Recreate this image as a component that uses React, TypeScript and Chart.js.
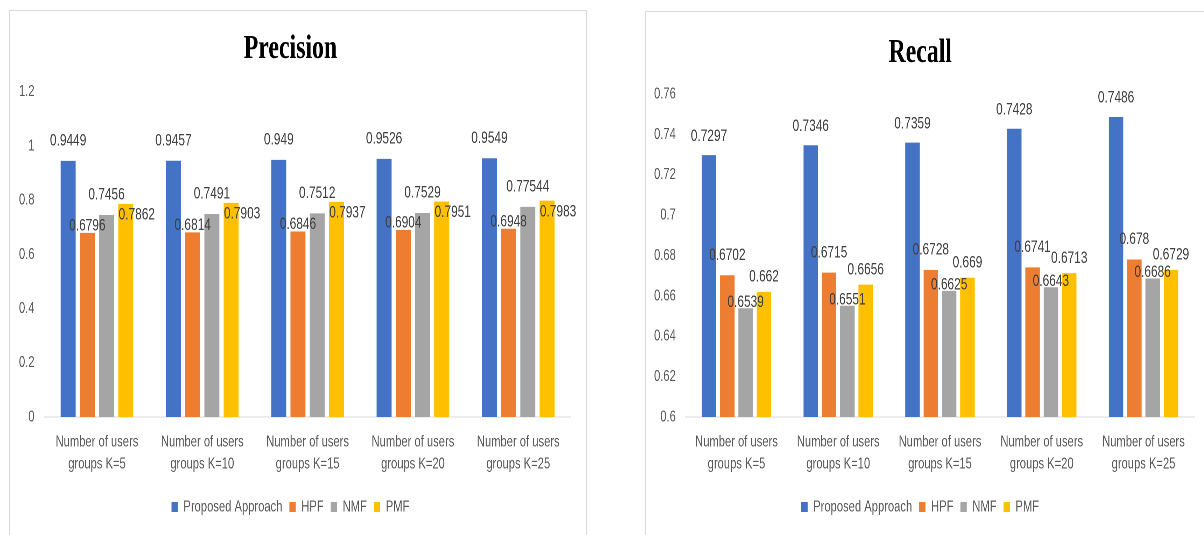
import React, { useEffect, useRef } from 'react';
import { Chart, registerables } from 'chart.js';

Chart.register(...registerables);

// ---------- data ----------
const categories: string[][] = [
  ['Number of users', 'groups K=5'],
  ['Number of users', 'groups K=10'],
  ['Number of users', 'groups K=15'],
  ['Number of users', 'groups K=20'],
  ['Number of users', 'groups K=25'],
];

const seriesNames = ['Proposed Approach', 'HPF', 'NMF', 'PMF'];
const seriesColors = ['#4472C4', '#ED7D31', '#A5A5A5', '#FFC000'];

const precisionProposed = [0.9449, 0.9457, 0.949, 0.9526, 0.9549];
const precisionHPF = [0.6796, 0.6814, 0.6846, 0.6904, 0.6948];
const precisionNMF = [0.7456, 0.7491, 0.7512, 0.7529, 0.77544];
const precisionPMF = [0.7862, 0.7903, 0.7937, 0.7951, 0.7983];

const recallProposed = [0.7297, 0.7346, 0.7359, 0.7428, 0.7486];
const recallHPF = [0.6702, 0.6715, 0.6728, 0.6741, 0.678];
const recallNMF = [0.6539, 0.6551, 0.6625, 0.6643, 0.6686];
const recallPMF = [0.662, 0.6656, 0.669, 0.6713, 0.6729];

const precisionTicks = [0, 0.2, 0.4, 0.6, 0.8, 1, 1.2];
const recallTicks = [0.6, 0.62, 0.64, 0.66, 0.68, 0.7, 0.72, 0.74, 0.76];

// ---------- styles ----------
const SANS = '"Liberation Sans", Arial, sans-serif';
const SERIF = '"Liberation Serif", "Times New Roman", serif';

type PanelCfg = {
  title: string;
  series: number[][];
  ticks: number[];
  W: number;
  H: number;
  scale: number;
  yWidth: number;
  rightPad: number;
  titlePadTop: number;
  titlePadBottom: number;
  bottomPad: number;
  catPct: number;
  barPct: number;
  labelOffsets: [number, number][];
};

function BarPanel({ cfg }: { cfg: PanelCfg }) {
  const ref = useRef<HTMLCanvasElement>(null);
  useEffect(() => {
    const canvas = ref.current!;
    const labelPlugin = {
      id: 'valueLabels',
      afterDatasetsDraw(chart: any) {
        const ctx = chart.ctx;
        ctx.save();
        ctx.font = '17px ' + SANS;
        ctx.fillStyle = '#404040';
        ctx.textAlign = 'center';
        ctx.textBaseline = 'middle';
        chart.data.datasets.forEach((ds: any, di: number) => {
          const meta = chart.getDatasetMeta(di);
          const [dx, dy] = cfg.labelOffsets[di];
          meta.data.forEach((el: any, i: number) => {
            ctx.fillText(String(ds.data[i]), el.x + dx, el.y + dy);
          });
        });
        ctx.restore();
      },
    };
    const chart = new Chart(canvas, {
      type: 'bar',
      data: {
        labels: categories,
        datasets: cfg.series.map((d, i) => ({
          label: seriesNames[i],
          data: d,
          backgroundColor: seriesColors[i],
          borderWidth: 0,
          categoryPercentage: cfg.catPct,
          barPercentage: cfg.barPct,
        })),
      },
      options: {
        responsive: false,
        animation: false,
        devicePixelRatio: 2,
        layout: { padding: { left: 0, right: cfg.rightPad, top: 0, bottom: cfg.bottomPad } },
        plugins: {
          title: {
            display: true,
            text: cfg.title,
            color: '#000000',
            font: { family: SERIF, size: 34, weight: 'bold', lineHeight: 1.2 },
            padding: { top: cfg.titlePadTop, bottom: cfg.titlePadBottom },
          },
          legend: {
            position: 'bottom',
            labels: {
              boxWidth: 9,
              boxHeight: 10,
              padding: 10,
              color: '#595959',
              font: { family: SANS, size: 16 },
            },
          },
          tooltip: { enabled: false },
        },
        scales: {
          x: {
            grid: { display: false, drawTicks: false },
            border: { display: true, color: '#d9d9d9', width: 1 },
            ticks: {
              color: '#595959',
              font: { family: SANS, size: 16, lineHeight: 1.375 },
              padding: 14,
              maxRotation: 0,
              autoSkip: false,
            },
            afterFit: (s: any) => {
              s.height = 72;
            },
          },
          y: {
            min: cfg.ticks[0],
            max: cfg.ticks[cfg.ticks.length - 1],
            grid: { display: false, drawTicks: false },
            border: { display: false },
            ticks: {
              color: '#595959',
              font: { family: SANS, size: 16 },
              padding: 14,
              callback: (v: any) => String(v),
            },
            afterBuildTicks: (s: any) => {
              s.ticks = cfg.ticks.map((v) => ({ value: v }));
            },
            afterFit: (s: any) => {
              s.width = cfg.yWidth;
            },
          },
        },
      } as any,
      plugins: [labelPlugin],
    });
    return () => chart.destroy();
  }, []);
  return (
    <canvas
      ref={ref}
      width={cfg.W}
      height={cfg.H}
      style={{
        position: 'absolute',
        left: 0,
        top: 0,
        display: 'block',
        transform: `scaleX(${cfg.scale})`,
        transformOrigin: '0 0',
      }}
    />
  );
}

const leftCfg: PanelCfg = {
  title: 'Precision',
  series: [precisionProposed, precisionHPF, precisionNMF, precisionPMF],
  ticks: precisionTicks,
  W: 823,
  H: 524,
  scale: 576 / 823,
  yWidth: 49,
  rightPad: 21.6,
  titlePadTop: 18,
  titlePadBottom: 22,
  bottomPad: 10,
  catPct: 0.73,
  barPct: 0.78,
  labelOffsets: [
    [0, -20],
    [0, -7],
    [0, -20],
    [15.7, 11],
  ],
};

const rightCfg: PanelCfg = {
  title: 'Recall',
  series: [recallProposed, recallHPF, recallNMF, recallPMF],
  ticks: recallTicks,
  W: 809,
  H: 523,
  scale: 566 / 809,
  yWidth: 56.6,
  rightPad: 25.2,
  titlePadTop: 20.6,
  titlePadBottom: 20.6,
  bottomPad: 10,
  catPct: 0.72,
  barPct: 0.79,
  labelOffsets: [
    [0, -19],
    [0, -20],
    [0, -6],
    [0, -15],
  ],
};

export default function App() {
  return (
    <div
      style={{
        position: 'fixed',
        left: 0,
        top: 0,
        width: 1204,
        height: 535,
        overflow: 'hidden',
        background: '#ffffff',
      }}
    >
      <div
        style={{
          position: 'absolute',
          left: 9,
          top: 10,
          width: 578,
          height: 540,
          border: '1px solid #d9d9d9',
          boxSizing: 'border-box',
        }}
      >
        <BarPanel cfg={leftCfg} />
      </div>
      <div
        style={{
          position: 'absolute',
          left: 645,
          top: 11,
          width: 570,
          height: 540,
          border: '1px solid #d9d9d9',
          boxSizing: 'border-box',
        }}
      >
        <BarPanel cfg={rightCfg} />
      </div>
    </div>
  );
}
